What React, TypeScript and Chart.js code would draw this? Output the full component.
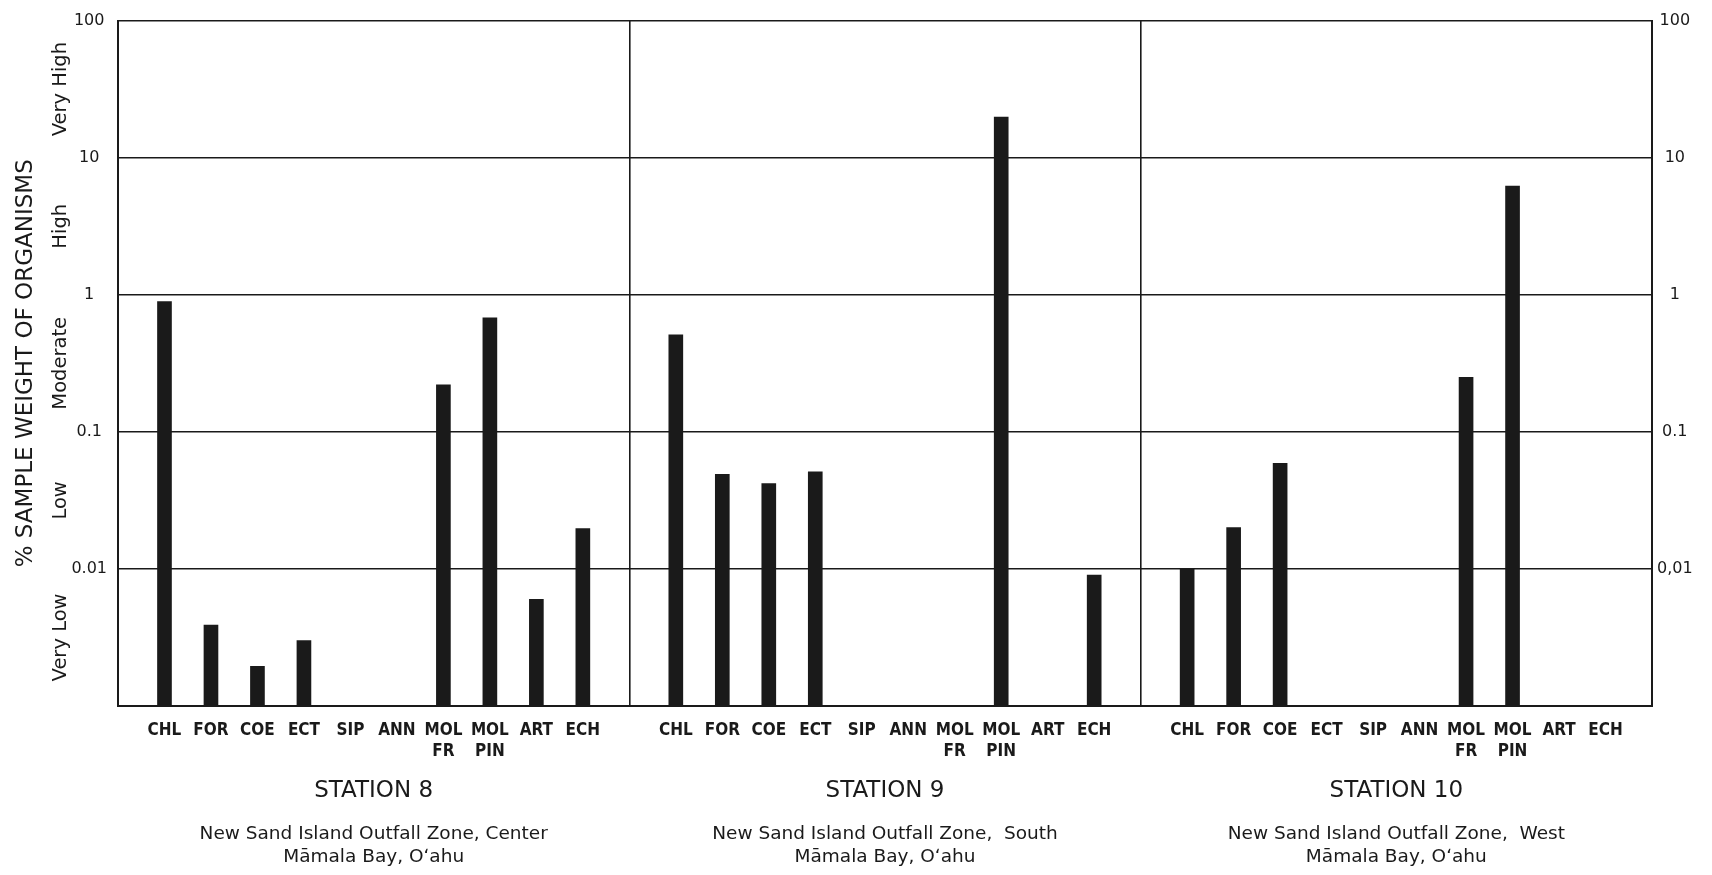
import React, { useEffect, useRef } from "react";
import { Chart, registerables } from "chart.js";

Chart.register(...registerables);

// ---- data ----
const categories = ["CHL", "FOR", "COE", "ECT", "SIP", "ANN", "MOL FR", "MOL PIN", "ART", "ECH"];
const station8 = [0.89, 0.0039, 0.00195, 0.003, null, null, 0.22, 0.68, 0.006, 0.0197];
const station9 = [0.51, 0.049, 0.042, 0.051, null, null, null, 19.8, null, 0.009];
const station10 = [0.01, 0.02, 0.059, null, null, null, 0.25, 6.2, null, null];
const stationTitles = ["STATION 8", "STATION 9", "STATION 10"];
const stationLine1 = [
  "New Sand Island Outfall Zone, Center",
  "New Sand Island Outfall Zone,  South",
  "New Sand Island Outfall Zone,  West",
];
const stationLine2 = ["M\u0101mala Bay, O\u02bbahu", "M\u0101mala Bay, O\u02bbahu", "M\u0101mala Bay, O\u02bbahu"];
const yTickValues = [0.001, 0.01, 0.1, 1, 10, 100];
const leftTickLabels = ["", "0.01", "0.1", "1", "10", "100"];
const rightTickLabels = ["", "0,01", "0.1", "1", "10", "100"];
const levelNames = ["Very Low", "Low", "Moderate", "High", "Very High"];
const yTitle = "% SAMPLE WEIGHT OF ORGANISMS";

const INK = "#1a1a1a";
const BODY_FONT = "'DejaVu Sans', 'Open Sans', sans-serif";

function tickIndex(v: number) {
  return yTickValues.findIndex((t) => Math.abs(Math.log10(t) - Math.log10(v)) < 1e-6);
}

export default function App() {
  const ref = useRef<HTMLCanvasElement | null>(null);

  useEffect(() => {
    const canvas = ref.current;
    if (!canvas) return;

    const labels: (string | string[])[] = [];
    const values: (number | null)[] = [];
    const boundaries: number[] = [];
    [station8, station9, station10].forEach((st) => {
      boundaries.push(labels.length);
      labels.push("");
      values.push(null);
      categories.forEach((c, i) => {
        const parts = c.split(" ");
        labels.push(parts.length > 1 ? parts : c);
        values.push(st[i]);
      });
    });
    boundaries.push(labels.length);
    labels.push("");
    values.push(null);

    const textPlugin = {
      id: "texts",
      afterDraw(chart: any) {
        const ctx = chart.ctx;
        const x = chart.scales.x;
        const y = chart.scales.y;
        ctx.save();
        ctx.fillStyle = INK;
        // station captions
        for (let s = 0; s < 3; s++) {
          const x0 = x.getPixelForValue(boundaries[s]);
          const x1 = x.getPixelForValue(boundaries[s + 1]);
          const cx = (x0 + x1) / 2;
          ctx.textAlign = "center";
          ctx.textBaseline = "alphabetic";
          ctx.font = `23px ${BODY_FONT}`;
          ctx.fillText(stationTitles[s], cx, 797);
          ctx.font = `18.5px ${BODY_FONT}`;
          ctx.fillText(stationLine1[s], cx, 839);
          ctx.fillText(stationLine2[s], cx, 862);
        }
        // level names
        ctx.font = `19.5px ${BODY_FONT}`;
        for (let i = 0; i < levelNames.length; i++) {
          const lo = yTickValues[i];
          const hi = yTickValues[i + 1];
          const cy = (y.getPixelForValue(lo) + y.getPixelForValue(hi)) / 2;
          ctx.save();
          ctx.translate(61, cy);
          ctx.rotate(-Math.PI / 2);
          ctx.textAlign = "center";
          ctx.textBaseline = "middle";
          ctx.fillText(levelNames[i], 0, 0);
          ctx.restore();
        }
        ctx.restore();
      },
    };

    const chart = new Chart(canvas, {
      type: "bar",
      data: {
        labels,
        datasets: [
          {
            data: values as any,
            backgroundColor: INK,
            borderWidth: 0,
            barThickness: 14,
          },
        ],
      },
      options: {
        responsive: false,
        animation: false,
        layout: { padding: { top: 16, left: 0, right: 0, bottom: 0 } },
        plugins: { legend: { display: false }, tooltip: { enabled: false } },
        scales: {
          x: {
            type: "category",
            offset: false,
            grid: {
              offset: false,
              drawTicks: false,
              color: (c: any) => (boundaries.includes(c.index) ? INK : "rgba(0,0,0,0)"),
              lineWidth: 1.6,
            },
            border: { color: INK, width: 2 },
            ticks: {
              autoSkip: false,
              maxRotation: 0,
              minRotation: 0,
              padding: 14,
              color: INK,
              font: {
                family: "'Liberation Sans Narrow', 'DejaVu Sans Condensed', 'Roboto Condensed', sans-serif",
                weight: "bold",
                size: 17,
                lineHeight: 1.25,
              },
            },
            afterFit: (s: any) => {
              s.height = 169;
            },
          },
          y: {
            type: "logarithmic",
            position: "left",
            min: 0.001,
            max: 100,
            afterBuildTicks: (s: any) => {
              s.ticks = yTickValues.map((v) => ({ value: v }));
            },
            grid: { drawTicks: false, color: INK, lineWidth: 1.6 },
            border: { color: INK, width: 2 },
            ticks: {
              crossAlign: "center",
              padding: 11,
              color: INK,
              font: { family: BODY_FONT, size: 16 },
              callback: (v: any) => leftTickLabels[tickIndex(Number(v))] ?? "",
            },
            title: {
              display: true,
              text: yTitle,
              color: INK,
              padding: { top: 12, bottom: 0 },
              font: { family: BODY_FONT, size: 23 },
            },
            afterFit: (s: any) => {
              s.width = 118;
            },
          },
          y2: {
            type: "logarithmic",
            position: "right",
            min: 0.001,
            max: 100,
            afterBuildTicks: (s: any) => {
              s.ticks = yTickValues.map((v) => ({ value: v }));
            },
            grid: { drawOnChartArea: false, drawTicks: false },
            border: { color: INK, width: 2 },
            ticks: {
              crossAlign: "center",
              padding: 5,
              color: INK,
              font: { family: BODY_FONT, size: 16 },
              callback: (v: any) => rightTickLabels[tickIndex(Number(v))] ?? "",
            },
            afterFit: (s: any) => {
              s.width = 60;
            },
          },
        },
      } as any,
      plugins: [textPlugin],
    });

    return () => chart.destroy();
  }, []);

  return (
    <div style={{ position: "fixed", left: 0, top: 0, width: 1712, height: 875, background: "#fff" }}>
      <canvas ref={ref} width={1712} height={875} style={{ width: 1712, height: 875, display: "block" }} />
    </div>
  );
}
